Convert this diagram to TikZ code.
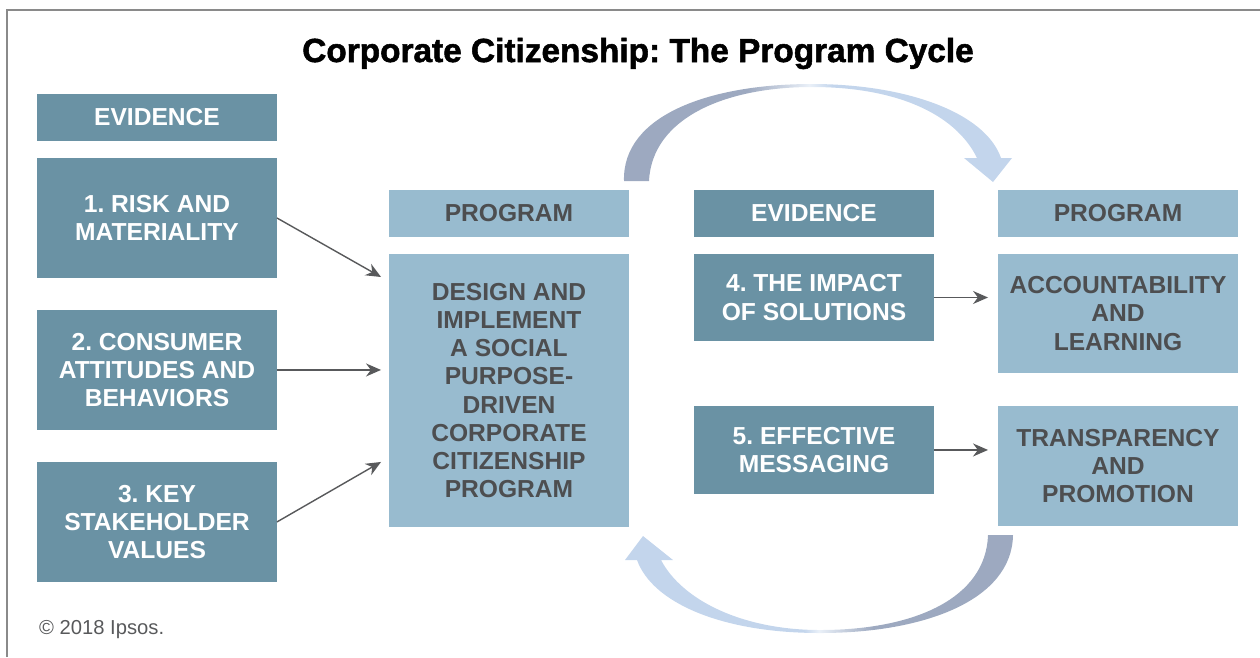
\documentclass[tikz,border=0pt]{standalone}
\usepackage{fontspec}
\setmainfont{Liberation Sans}
\newfontfamily\titlefont[FakeBold=1.6]{Liberation Sans Bold}
\usetikzlibrary{positioning,arrows.meta}
\definecolor{evblue}{HTML}{6A92A4}
\definecolor{prblue}{HTML}{98BBCF}
\definecolor{txtgray}{HTML}{4D4E50}
\definecolor{arrgray}{HTML}{58595B}
\definecolor{cycdark}{HTML}{9DA9C0}
\definecolor{cyclight}{HTML}{C3D5EC}
\definecolor{framegray}{HTML}{8A8A8A}
\pgfdeclarehorizontalshading{cycleLR}{100bp}{color(0bp)=(cycdark); color(41bp)=(cycdark); color(49bp)=(cyclight!35!white); color(52bp)=(cyclight); color(100bp)=(cyclight)}
\pgfdeclarehorizontalshading{cycleRL}{100bp}{color(0bp)=(cyclight); color(48bp)=(cyclight); color(50bp)=(cyclight!35!white); color(57bp)=(cycdark); color(100bp)=(cycdark)}
\frenchspacing

\begin{document}
\begin{tikzpicture}[x=0.02cm, y=-0.02cm,
	box/.style={rectangle, minimum width=4.8cm, inner sep=0pt, outer sep=0pt, align=center, font=\fontsize{14}{16}\selectfont\bfseries},
	evbox/.style={box, fill=evblue, text=white},
	prbox/.style={box, fill=prblue, text=txtgray},
	flow/.style={->, >={Stealth[length=0.3cm, width=0.26cm]}, line width=0.8pt, arrgray}]
	\useasboundingbox (0,0) rectangle (1260,657);
	\draw[framegray, line width=0.9pt] (7,657) -- (7,10) -- (1260,10);
	\node[anchor=base, font=\fontsize{19}{22}\titlefont] (title) at (638,62) {Corporate Citizenship: The Program Cycle};

	\node[evbox, minimum height=0.94cm] (evleft) at (157,117.5) {EVIDENCE};
	\node[evbox, minimum height=2.4cm, below=0.34cm of evleft] (risk) {1. RISK AND\\MATERIALITY};
	\node[evbox, minimum height=2.4cm, below=0.64cm of risk] (consumer) {2. CONSUMER\\ATTITUDES AND\\BEHAVIORS};
	\node[evbox, minimum height=2.4cm, below=0.64cm of consumer] (stake) {3. KEY\\STAKEHOLDER\\VALUES};

	\node[prbox, minimum height=0.94cm] (prmid) at (509,213.5) {PROGRAM};
	\node[prbox, minimum height=5.46cm, below=0.34cm of prmid] (design) {DESIGN AND\\IMPLEMENT\\A SOCIAL\\PURPOSE-\\DRIVEN\\CORPORATE\\CITIZENSHIP\\PROGRAM};

	\node[evbox, minimum height=0.94cm] (evright) at (814,213.5) {EVIDENCE};
	\node[evbox, minimum height=1.74cm, below=0.34cm of evright] (impact) {4. THE IMPACT\\OF SOLUTIONS};
	\node[evbox, minimum height=1.76cm, below=1.3cm of impact] (message) {5. EFFECTIVE\\MESSAGING};

	\node[prbox, minimum height=0.94cm] (prright) at (1118,213.5) {PROGRAM};
	\node[prbox, minimum height=2.38cm, below=0.34cm of prright] (account) {ACCOUNTABILITY\\AND\\LEARNING};
	\node[prbox, minimum height=2.4cm, below=0.66cm of account] (transp) {TRANSPARENCY\\AND\\PROMOTION};

	\draw[flow] (risk.east) -- ([xshift=-0.16cm, yshift=2.27cm] design.west);
	\draw[flow, shorten >=0.16cm] (consumer.east) -- (consumer.east -| design.west);
	\draw[flow] (stake.east) -- ([xshift=-0.16cm, yshift=-1.43cm] design.west);
	\draw[flow, shorten >=0.2cm] (impact.east) -- (impact.east -| account.west);
	\draw[flow, shorten >=0.2cm] (message.east) -- (message.east -| transp.west);

	\shade[shading=cycleLR] (624,181) .. controls (622,115) and (710,84) .. (812,84) .. controls (905,84) and (985,112) .. (1001,158) -- (1012,158) -- (993,182) -- (964,158) -- (977,158) .. controls (955,113) and (895,87) .. (812,87) .. controls (725,87) and (652,118) .. (649,181) -- cycle;
	\shade[shading=cycleRL] (1013,535) .. controls (1012,600) and (925,633) .. (820,633) .. controls (720,633) and (652,602) .. (637,560) -- (625,560) -- (643,536) -- (673,560) -- (661,560) .. controls (682,600) and (742,630) .. (820,630) .. controls (915,630) and (986,598) .. (988,535) -- cycle;

	\node[anchor=base west, font=\fontsize{11.5}{14}\selectfont, text=arrgray] (copy) at (33,634) {© 2018 Ipsos.};
\end{tikzpicture}
\end{document}
